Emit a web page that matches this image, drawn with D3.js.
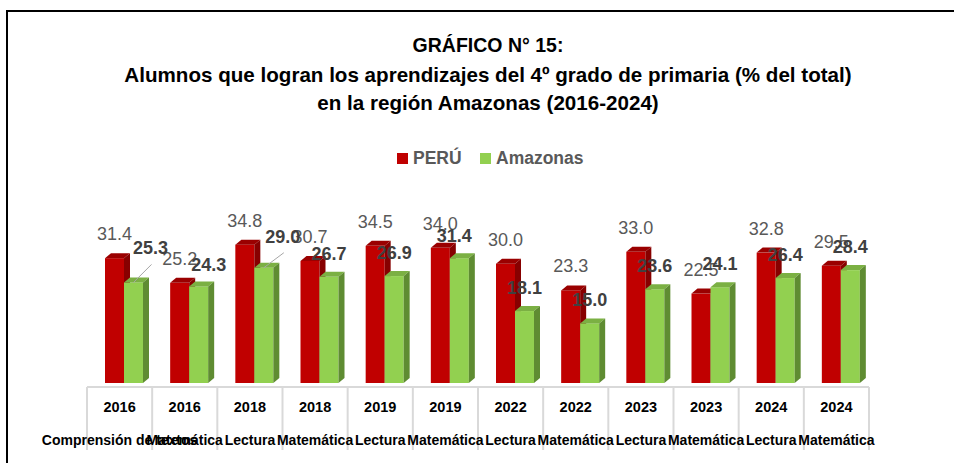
<!DOCTYPE html>
<html>
<head>
<meta charset="utf-8">
<script src="https://cdn.jsdelivr.net/npm/d3@7"></script>
<style>
    body { margin: 0; background: #fff; }
    text { font-family: "Liberation Sans", Arial, sans-serif; }
</style>
</head>
<body>
<script>
var years = ["2016", "2016", "2018", "2018", "2019", "2019", "2022", "2022", "2023", "2023", "2024", "2024"];
var subjects = ["Comprensión de textos", "Matemática", "Lectura", "Matemática", "Lectura", "Matemática",
    "Lectura", "Matemática", "Lectura", "Matemática", "Lectura", "Matemática"];
var peru = [31.4, 25.2, 34.8, 30.7, 34.5, 34.0, 30.0, 23.3, 33.0, 22.5, 32.8, 29.5];
var amazonas = [25.3, 24.3, 29.0, 26.7, 26.9, 31.4, 18.1, 15.0, 23.6, 24.1, 26.4, 28.4];
var seriesNames = ["PERÚ", "Amazonas"];

window.onload = function(){

    var w = 954, h = 463;

    var container = d3.select("body")
        .append("svg")
        .attr("width", w)
        .attr("height", h);

    // chart frame (runs off the right and bottom edges)
    container.append("rect")
        .attr("x", 7)
        .attr("y", 11)
        .attr("width", 1000)
        .attr("height", 500)
        .style("fill", "none")
        .style("stroke", "#000")
        .style("stroke-width", 2);

    var titleLines = [
        "GRÁFICO N° 15:",
        "Alumnos que logran los aprendizajes del 4º grado de primaria (% del total)",
        "en la región Amazonas (2016-2024)"
    ];
    var titleY = [52, 82, 110];
    var titleSize = ["19.5px", "20.6px", "20.6px"];

    container.selectAll(".title")
        .data(titleLines)
        .enter()
        .append("text")
        .attr("class", "title")
        .attr("text-anchor", "middle")
        .attr("x", 488)
        .attr("y", function(d, i){ return titleY[i]; })
        .style("font-size", function(d, i){ return titleSize[i]; })
        .style("font-weight", "bold")
        .style("fill", "#000")
        .text(function(d){ return d; });

    var colors = { front: ["#C00000", "#92D050"], top: ["#9a0000", "#7bb043"], side: ["#870000", "#5f8c32"] };

    // legend
    var legendX = [397, 480];
    var legend = container.selectAll(".legend")
        .data(seriesNames)
        .enter()
        .append("g")
        .attr("class", "legend")
        .attr("transform", function(d, i){ return "translate(" + legendX[i] + ",153)"; });
    legend.append("rect")
        .attr("width", 11)
        .attr("height", 11)
        .style("fill", function(d, i){ return colors.front[i]; });
    legend.append("text")
        .attr("x", 16)
        .attr("y", 11)
        .style("font-size", "17.5px")
        .style("font-weight", "bold")
        .style("fill", "#595959")
        .text(function(d){ return d; });

    var x = d3.scaleBand()
        .domain(d3.range(years.length))
        .range([87, 869]);

    var y = d3.scaleLinear()
        .domain([0, 40])
        .range([383, 224]);

    var barW = 19, dx = 6, dy = 5, pad = 18;

    var bars = [];
    [peru, amazonas].forEach(function(vals, s){
        vals.forEach(function(v, i){
            bars.push({ i: i, s: s, v: v });
        });
    });

    function bx(d){ return x(d.i) + pad + d.s * barW; }

    var barG = container.selectAll(".bar")
        .data(bars)
        .enter()
        .append("g")
        .attr("class", "bar");

    barG.append("rect")
        .attr("x", bx)
        .attr("y", function(d){ return y(d.v); })
        .attr("width", barW)
        .attr("height", function(d){ return y(0) - y(d.v); })
        .style("fill", function(d){ return colors.front[d.s]; });

    barG.append("path")
        .attr("d", function(d){
            var x0 = bx(d), yt = y(d.v);
            return "M" + x0 + "," + yt + "L" + (x0 + dx) + "," + (yt - dy) +
                "L" + (x0 + barW + dx) + "," + (yt - dy) + "L" + (x0 + barW) + "," + yt + "Z";
        })
        .style("fill", function(d){ return colors.top[d.s]; });

    barG.append("path")
        .attr("d", function(d){
            var x1 = bx(d) + barW, yt = y(d.v), yb = y(0);
            return "M" + x1 + "," + yt + "L" + (x1 + dx) + "," + (yt - dy) +
                "L" + (x1 + dx) + "," + (yb - dy) + "L" + x1 + "," + yb + "Z";
        })
        .style("fill", function(d){ return colors.side[d.s]; });

    // category table
    container.append("line")
        .attr("x1", x.range()[0])
        .attr("x2", x.range()[1])
        .attr("y1", 387)
        .attr("y2", 387)
        .style("stroke", "#d9d9d9")
        .style("stroke-width", 2);

    container.selectAll(".tick-line")
        .data(d3.range(years.length + 1))
        .enter()
        .append("line")
        .attr("class", "tick-line")
        .attr("x1", function(d){ return x.range()[0] + d * x.bandwidth(); })
        .attr("x2", function(d){ return x.range()[0] + d * x.bandwidth(); })
        .attr("y1", 387)
        .attr("y2", 450)
        .style("stroke", "#d9d9d9")
        .style("stroke-width", 2);

    container.selectAll(".year")
        .data(years)
        .enter()
        .append("text")
        .attr("class", "year")
        .attr("text-anchor", "middle")
        .attr("x", function(d, i){ return x(i) + x.bandwidth() / 2; })
        .attr("y", 412)
        .style("font-size", "14.5px")
        .style("font-weight", "bold")
        .style("fill", "#000")
        .text(function(d){ return d; });

    container.selectAll(".subject")
        .data(subjects)
        .enter()
        .append("text")
        .attr("class", "subject")
        .attr("text-anchor", "middle")
        .attr("x", function(d, i){ return x(i) + x.bandwidth() / 2; })
        .attr("y", 445)
        .style("font-size", "14px")
        .style("font-weight", "bold")
        .style("fill", "#000")
        .text(function(d){ return d; });

    // data labels
    container.selectAll(".peru-label")
        .data(peru)
        .enter()
        .append("text")
        .attr("class", "peru-label")
        .attr("text-anchor", "middle")
        .attr("x", function(d, i){ return x(i) + pad + barW / 2; })
        .attr("y", function(d){ return y(d) - 18; })
        .style("font-size", "18px")
        .style("fill", "#595959")
        .text(function(d){ return d.toFixed(1); });

    // Amazonas labels moved by hand in the original, some with leader lines
    var nudge = { 0: [17, -28, true], 1: [10, -15], 2: [19, -25, true], 5: [-5, -16] };
    function gx(i){ return x(i) + pad + barW * 1.5; }
    function lx(i){ return gx(i) + (nudge[i] ? nudge[i][0] : 0); }
    function ly(d, i){ return y(d) + (nudge[i] ? nudge[i][1] : -17); }

    container.selectAll(".leader")
        .data(amazonas.filter(function(d, i){ return nudge[i] && nudge[i][2]; }))
        .enter()
        .append("line")
        .attr("class", "leader")
        .each(function(d){
            var i = amazonas.indexOf(d);
            d3.select(this)
                .attr("x1", gx(i))
                .attr("y1", y(d))
                .attr("x2", lx(i) + 1)
                .attr("y2", ly(d, i) + 10);
        })
        .style("stroke", "#a6a6a6")
        .style("stroke-width", 1);

    container.selectAll(".ama-label")
        .data(amazonas)
        .enter()
        .append("text")
        .attr("class", "ama-label")
        .attr("text-anchor", "middle")
        .attr("x", function(d, i){ return lx(i); })
        .attr("y", ly)
        .style("font-size", "18px")
        .style("font-weight", "bold")
        .style("fill", "#404040")
        .text(function(d){ return d.toFixed(1); });
};
</script>
</body>
</html>
